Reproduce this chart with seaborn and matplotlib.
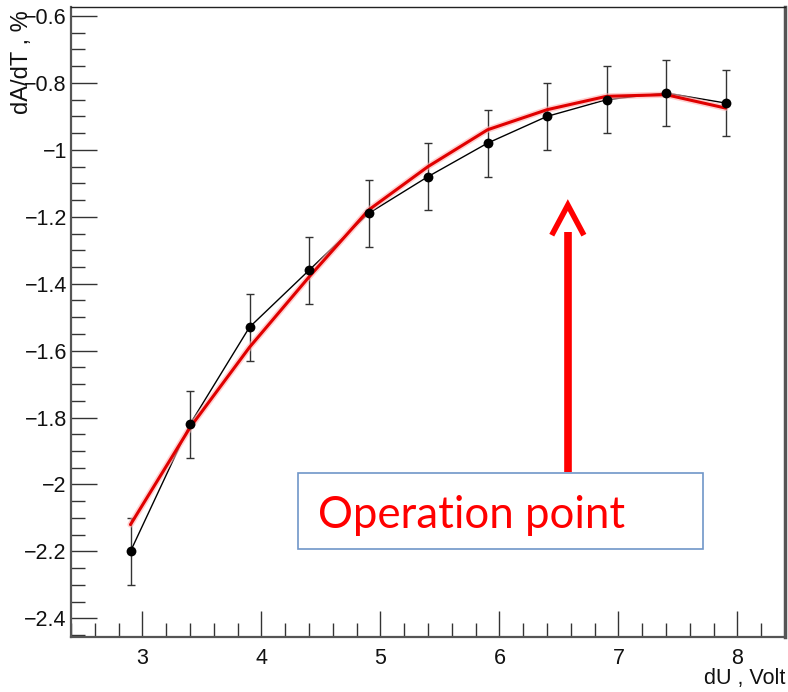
import numpy as np
import pandas as pd
import matplotlib
matplotlib.use("Agg")
import matplotlib.pyplot as plt
from matplotlib.ticker import MultipleLocator
import seaborn as sns

# ---- data ----
du = [2.9, 3.4, 3.9, 4.4, 4.9, 5.4, 5.9, 6.4, 6.9, 7.4, 7.9]
dadt = [-2.20, -1.82, -1.53, -1.36, -1.19, -1.08, -0.98, -0.90, -0.85, -0.83, -0.86]
err = [0.10, 0.10, 0.10, 0.10, 0.10, 0.10, 0.10, 0.10, 0.10, 0.10, 0.10]
fit = [-2.12, -1.83, -1.59, -1.38, -1.18, -1.05, -0.94, -0.88, -0.84, -0.835, -0.875]
x_ticks = [3, 4, 5, 6, 7, 8]
y_ticks = [-2.4, -2.2, -2.0, -1.8, -1.6, -1.4, -1.2, -1.0, -0.8, -0.6]
x_tick_labels = ["3", "4", "5", "6", "7", "8"]
y_tick_labels = ["\u22122.4", "\u22122.2", "\u22122", "\u22121.8", "\u22121.6", "\u22121.4",
                 "\u22121.2", "\u22121", "\u22120.8", "\u22120.6"]
annotation_text = "Operation point"
x_label = "dU , Volt"
y_label = "dA/dT , %"

sns.set_style("white")
plt.rcParams["font.family"] = ["Liberation Sans", "DejaVu Sans"]

df = pd.DataFrame({"du": du, "dadt": dadt, "err": err, "fit": fit})

fig = plt.figure(figsize=(7.88, 6.92), dpi=100)
ax = fig.add_axes([71 / 788, 55 / 692, 714 / 788, 630 / 692])

# error bars
ax.errorbar(df["du"], df["dadt"], yerr=df["err"], fmt="none", ecolor="#333333",
            elinewidth=1.0, capsize=3, capthick=1.0, zorder=2)
# data line and markers
sns.lineplot(data=df, x="du", y="dadt", ax=ax, color="black", linewidth=1.0,
             sort=False, zorder=3)
sns.scatterplot(data=df, x="du", y="dadt", ax=ax, color="black", s=50,
                edgecolor="black", linewidth=0, zorder=5)
# fit curve (red) with a faint halo
sns.lineplot(data=df, x="du", y="fit", ax=ax, color="#ffb0b0", linewidth=4.5,
             sort=False, zorder=3.5, alpha=0.6)
sns.lineplot(data=df, x="du", y="fit", ax=ax, color="#e00000", linewidth=2.2,
             sort=False, zorder=4)

ax.set_xlim(2.4, 8.4)
ax.set_ylim(-2.456, -0.573)
ax.set_xticks(x_ticks)
ax.set_xticklabels(x_tick_labels)
ax.set_yticks(y_ticks)
ax.set_yticklabels(y_tick_labels)
ax.xaxis.set_minor_locator(MultipleLocator(0.2))
ax.yaxis.set_minor_locator(MultipleLocator(0.05))
ax.tick_params(axis="both", which="both", left=True, bottom=True, top=False, right=False)
ax.tick_params(axis="both", which="major", direction="in", length=19, width=1.0,
               color="#333333", labelsize=15.5, labelcolor="#111111")
ax.tick_params(axis="both", which="minor", direction="in", length=10, width=1.0,
               color="#333333")
ax.tick_params(axis="y", which="both", pad=3)
ax.tick_params(axis="x", which="both", pad=8)
ax.set_xlabel("")
ax.set_ylabel("")
for side, sp in ax.spines.items():
    sp.set_visible(True)
    sp.set_color("#555555")
    sp.set_linewidth(1.6)
ax.spines["top"].set_color("#222222")
ax.spines["top"].set_linewidth(1.0)
ax.spines["right"].set_linewidth(2.5)

# axis titles (ROOT style)
fig.text(22 / 788, 1 - 10 / 692, y_label, rotation=90, ha="center", va="top",
         fontsize=17, color="#111111")
fig.text(785 / 788, 3 / 692, x_label, ha="right", va="bottom",
         fontsize=15.5, color="#111111")

# arrow: shaft and open head
arrow_x = 6.575
ax.plot([arrow_x, arrow_x], [-1.964, -1.245], color="#ff0000", linewidth=5.5,
        solid_capstyle="butt", zorder=6)
ax.plot([6.44, arrow_x, 6.71], [-1.255, -1.165, -1.255], color="#ff0000",
        linewidth=4.0, solid_joinstyle="miter", solid_capstyle="butt", zorder=6)

# text box
bx0, bx1 = (300 - 143) / 120 + 3, (708 - 143) / 120 + 3
by0, by1 = -0.6 - (550 - 16) / 335, -0.6 - (474 - 16) / 335
ax.add_patch(plt.Rectangle((bx0, by0), bx1 - bx0, by1 - by0, facecolor="white",
                           edgecolor="#7096c8", linewidth=1.2, zorder=7))
ax.text((320 - 143) / 120 + 3, -0.6 - (516 - 16) / 335, annotation_text,
        ha="left", va="center", fontsize=31.5, color="#ff0000",
        family=["Lato", "DejaVu Sans"], zorder=8)

fig.savefig("out.png", dpi=100)
